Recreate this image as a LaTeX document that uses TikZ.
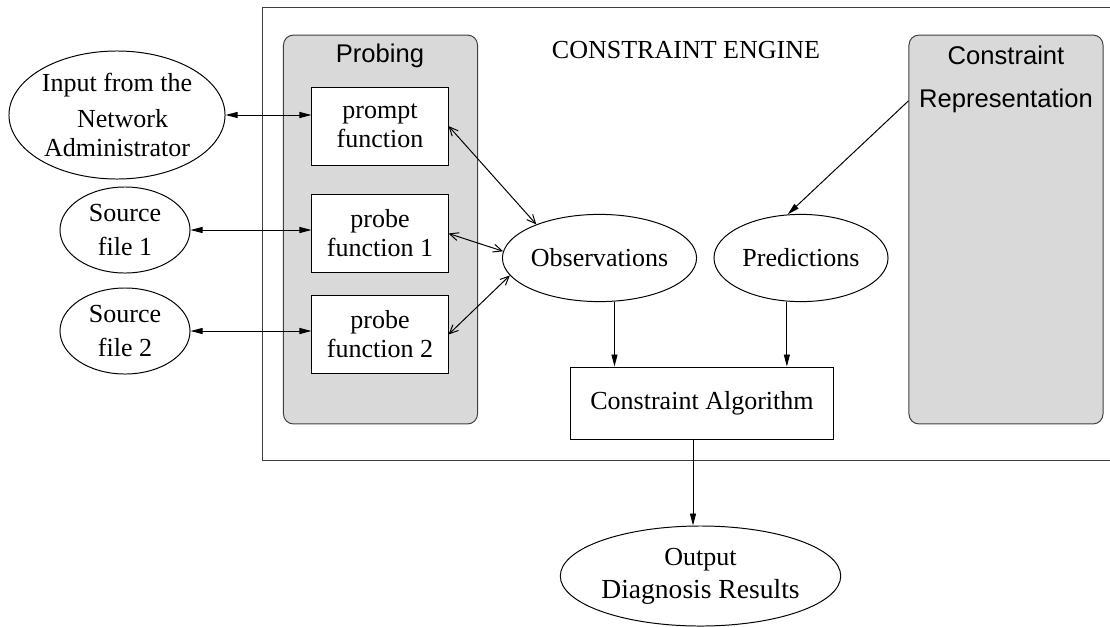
\documentclass[tikz,border=0pt]{standalone}
\usepackage{fontspec}
\setmainfont{Liberation Serif}
\setsansfont{Liberation Sans}
\usetikzlibrary{arrows.meta, positioning, calc, shapes.geometric}

\begin{document}
\begin{tikzpicture}[
  x=0.025cm, y=-0.025cm, line width=0.7pt,
  every node/.style = {font=\fontsize{18.5}{20.6}\selectfont},
  box/.style    = {draw, fill=white, minimum width=3.4cm, minimum height=1.95cm, inner sep=1pt, align=center},
  oval/.style   = {draw, ellipse, inner sep=0pt, align=center},
  panel/.style  = {draw=black!75, fill=black!15, rounded corners=0.25cm, minimum width=4.85cm, minimum height=9.72cm, inner sep=0pt},
  title/.style  = {font=\sffamily\fontsize{18.2}{20.6}\selectfont, align=center},
  arrow/.style  = {-{Triangle[length=0.3cm, width=0.15cm]}},
  twoway/.style = {{Triangle[length=0.3cm, width=0.15cm]}-{Triangle[length=0.3cm, width=0.15cm]}},
  open/.style   = {{Straight Barb[length=0.22cm, width=0.2cm]}-{Straight Barb[length=0.22cm, width=0.2cm]}}
]

  \useasboundingbox (0,0) rectangle (1110,626);

  % Constraint engine frame (runs off the right edge)
  \draw[black!75] (1110,7) -| (262,460) -- (1110,460);
  \node (engine) at (686,50) {CONSTRAINT ENGINE};

  % Probing panel
  \node[panel] (probing) at (380.5,229.5) {};
  \node[title] (probingtitle) at (380,56) {Probing};

  % Constraint representation panel
  \node[panel] (conrep) at (1006,229.5) {};
  \node[title] (conreptitle) at (1006,79) {Constraint\\[10pt]Representation};

  % Functions inside the probing panel
  \node[box] (prompt) at (380,126) {prompt\\function};
  \node[box] (probe1) at (380,233.5) {probe\\function 1};
  \node[box] (probe2) at (380,334.5) {probe\\function 2};

  % Inputs on the left
  \node[oval, minimum width=5.4cm, minimum height=3.2cm] (input) at (117,115)
    {Input from the\\[4.5pt]\hspace*{8pt}Network\\Administrator};
  \node[oval, minimum width=3.25cm, minimum height=2.15cm] (src1) at (125,230)
    {Source\\[4pt]file 1};
  \node[oval, minimum width=3.25cm, minimum height=2.15cm] (src2) at (125,331)
    {Source\\[4pt]file 2};

  % Observations and predictions
  \node[oval, minimum width=4.33cm, minimum height=2.18cm] (obs) at (599.5,258) {Observations};
  \node[oval, minimum width=4.35cm, minimum height=2.18cm] (pred) at (801,258) {Predictions};

  % Constraint algorithm
  \node[box, minimum width=6.55cm, minimum height=1.8cm] (algo) at (702,403) {Constraint Algorithm};

  % Output below the frame
  \node[oval, minimum width=6.18cm, minimum height=2.5cm] (output) at (700.5,576)
    {Output\\[3pt]\fontsize{19.6}{22}\selectfont Diagnosis Results};

  % inputs <-> probing functions
  \draw[twoway] (input.east) -- (input.east -| prompt.west);
  \draw[twoway] (src1.east) -- (src1.east -| probe1.west);
  \draw[twoway] (src2.east) -- (src2.east -| probe2.west);

  % probing functions <-> observations
  \draw[open] (prompt.east) -- (obs.152);
  \draw[open] (probe1.east) -- (obs.176);
  \draw[open] (probe2.east) -- (obs.191);

  % representation feeds predictions
  \coordinate (repout) at ($(conrep.north west)!0.17!(conrep.south west)$);
  \draw[arrow] (repout) -- (pred.107);

  % both into the algorithm
  \draw[arrow] (obs.-71.5) -- (obs.-71.5 |- algo.north);
  \draw[arrow] (pred.-108) -- (pred.-108 |- algo.north);

  % algorithm to output
  \coordinate (algoout) at ([xshift=-0.225cm]algo.south);
  \draw[arrow] (algoout) -- (algoout |- output.north);

\end{tikzpicture}
\end{document}
